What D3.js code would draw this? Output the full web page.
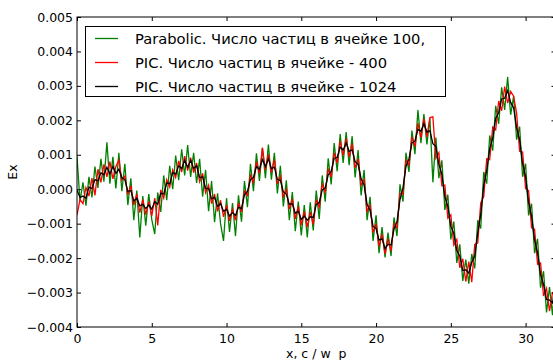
<!DOCTYPE html>
<html><head><meta charset="utf-8">
<script src="https://cdn.jsdelivr.net/npm/d3@7"></script>
<style>
html,body{margin:0;padding:0;background:#fff;overflow:hidden;}
svg{display:block;font-family:"DejaVu Sans",sans-serif;}
</style></head>
<body><svg id="c" width="553" height="360"></svg>
<script>
// Ex values in units of 1e-4, sampled every X_STEP along x (c / w_p)
const X_STEP = 0.2;
const UNIT = 1e-4;
const seriesNames = [
  "Parabolic. Число частиц в ячейке 100,",
  "PIC. Число частиц в ячейке - 400",
  "PIC. Число частиц в ячейке - 1024"
];
const seriesColors = ["#008000", "#ff0000", "#000000"];
const xTicks = [0, 5, 10, 15, 20, 25, 30];
const yTicks = [-0.004, -0.003, -0.002, -0.001, 0, 0.001, 0.002, 0.003, 0.004, 0.005];

const parabolic100 = [
 9.5,-3.5,2.0,-4.8,3.6,-2.4,6.6,0.4,8.8,2.2,
 13.6,1.6,9.4,0.2,10.6,-0.6,7.4,-4.6,3.2,-9.0,
 -0.4,-14.0,-2.0,-10.6,-1.4,-8.8,-13.0,-1.0,-6.6,4.0,
 -3.2,6.8,0.0,9.8,2.6,11.6,4.0,12.8,3.6,10.6,
 1.8,8.8,-2.2,5.6,-6.4,2.4,-9.6,-1.2,-10.0,-15.0,
 -2.6,-12.4,-4.0,-13.6,-1.8,-9.4,2.4,-5.2,7.4,-0.6,
 10.4,2.4,12.0,3.2,13.0,2.8,10.6,-1.2,6.8,-5.0,
 2.6,-9.0,-0.8,-12.2,-3.6,-13.4,-4.6,-14.0,-3.8,-12.0,
 -0.4,-8.6,4.0,-3.6,9.0,1.4,13.4,5.2,16.0,7.6,
 16.6,7.0,15.4,3.4,11.4,-1.8,5.6,-9.0,-2.2,-15.0,
 -7.6,-18.6,-11.0,-19.8,-12.6,-19.4,-8.2,-13.6,1.4,-3.6,
 10.6,5.0,17.0,10.2,23.0,13.4,21.8,13.0,20.6,2.0,
 15.0,3.2,8.4,-6.0,-1.6,-14.6,-9.4,-21.4,-16.0,-26.6,
 -20.4,-27.4,-18.8,-23.0,-9.0,-11.4,5.0,1.6,15.6,11.2,
 24.2,19.0,29.6,23.0,32.6,21.6,27.0,14.4,18.2,3.6,
 7.4,-7.6,-4.2,-18.6,-14.4,-28.6,-23.8,-35.8,-28.4,-36.6,
 -24.6
];
const pic400 = [
 -7.5,-3.0,-4.2,0.5,-2.0,3.2,-1.8,5.8,2.0,7.2,
 3.6,8.0,3.0,6.6,8.4,2.6,3.8,-1.6,1.0,-4.6,
 -1.4,-6.8,-3.0,-7.4,-3.6,-7.8,-2.6,-10.5,-0.2,-2.6,
 2.8,0.6,5.6,3.4,8.2,5.0,9.6,5.4,9.2,4.8,
 7.6,2.2,4.6,-1.0,1.2,-4.2,-1.4,-6.4,-3.2,-8.0,
 -4.6,-9.2,-5.8,-9.0,-4.0,-6.6,-0.6,-1.8,4.0,2.0,
 8.0,4.6,12.0,5.6,10.2,4.8,8.6,1.6,3.8,-2.2,
 0.0,-5.8,-2.8,-8.6,-5.0,-10.4,-6.4,-11.0,-6.6,-10.2,
 -3.0,-5.2,1.4,-0.8,5.8,3.6,10.6,7.6,14.0,9.8,
 14.8,9.4,13.2,6.2,8.8,1.2,2.8,-6.4,-4.6,-12.6,
 -10.0,-16.6,-13.0,-18.8,-14.4,-18.0,-10.0,-11.2,-1.2,-1.4,
 8.4,7.0,15.2,12.4,19.2,15.0,20.4,15.2,20.8,21.0,
 9.0,10.6,1.0,1.2,-8.4,-7.4,-16.2,-14.6,-22.8,-20.2,
 -26.8,-21.0,-27.0,-16.0,-15.6,-4.0,-2.2,8.8,8.6,18.0,
 17.2,25.6,22.8,29.8,25.0,28.4,27.0,22.0,11.0,10.8,
 0.2,-0.4,-11.2,-11.6,-21.8,-21.4,-31.0,-28.8,-35.4,-30.0,
 -29.8
];
const pic1024 = [
 -0.2,-2.4,-2.0,-2.6,0.6,0.2,2.8,2.4,4.8,4.2,
 6.4,4.4,6.6,4.6,5.8,3.4,2.8,-0.6,-0.4,-3.4,
 -2.6,-4.8,-4.4,-5.6,-4.6,-5.8,-3.6,-4.4,-1.2,-1.4,
 1.8,1.6,4.8,4.4,6.8,6.0,8.4,6.4,8.4,6.0,
 6.8,3.4,3.6,0.2,0.2,-2.8,-2.4,-5.0,-4.2,-6.4,
 -5.8,-7.8,-6.8,-7.6,-5.2,-5.6,-1.6,-0.6,2.8,3.4,
 6.6,5.8,8.6,6.6,8.8,6.0,6.4,2.8,2.6,-0.8,
 -1.4,-4.4,-4.2,-7.0,-6.4,-8.8,-7.8,-9.0,-8.0,-8.2,
 -4.4,-3.8,-0.2,0.4,4.2,5.2,9.0,9.2,12.2,11.4,
 13.4,11.0,11.4,8.0,7.2,3.0,1.2,-4.4,-6.2,-10.8,
 -11.4,-14.8,-14.4,-17.2,-16.0,-16.2,-11.6,-9.4,-3.0,0.4,
 6.6,8.8,13.4,14.0,17.4,16.8,19.0,16.6,17.0,13.2,
 12.4,7.2,4.4,-2.2,-5.0,-10.8,-12.8,-17.8,-19.4,-23.6,
 -23.4,-24.4,-21.2,-19.4,-12.6,-7.4,1.2,5.4,11.8,14.8,
 20.6,22.2,26.2,26.4,28.6,25.2,23.6,17.8,14.4,7.4,
 3.6,-3.8,-7.8,-14.8,-18.4,-24.8,-27.6,-32.0,-32.2,-33.0,
 -27.6
];
const allSeries = [parabolic100, pic400, pic1024];

const svg = d3.select("#c");
const M = {left: 77, right: 555.5, top: 17, bottom: 327};
const x = d3.scaleLinear().domain([0, 32]).range([M.left, M.right]);
const y = d3.scaleLinear().domain([-0.004, 0.005]).range([M.bottom, M.top]);

svg.append("rect").attr("width", 553).attr("height", 360).attr("fill", "#fff");

svg.append("defs").append("clipPath").attr("id", "clip")
  .append("rect").attr("x", M.left).attr("y", M.top)
  .attr("width", M.right - M.left).attr("height", M.bottom - M.top);

const line = d3.line()
  .x((d, i) => x(i * X_STEP))
  .y(d => y(d * UNIT));

const g = svg.append("g").attr("clip-path", "url(#clip)");
allSeries.forEach((s, k) => {
  g.append("path").datum(s)
    .attr("d", line)
    .attr("fill", "none")
    .attr("stroke", seriesColors[k])
    .attr("stroke-width", 1.3)
    .attr("stroke-linejoin", "miter");
});

const fmtY = v => d3.format(".3f")(v).replace("-", "\u2212");
const fs = 12.5;

// axes with inward ticks
const axB = svg.append("g").attr("transform", `translate(0,${M.bottom})`)
  .call(d3.axisBottom(x).tickValues(xTicks).tickSize(-4).tickPadding(6).tickFormat(d3.format("d")));
const axT = svg.append("g").attr("transform", `translate(0,${M.top})`)
  .call(d3.axisTop(x).tickValues(xTicks).tickSize(-4).tickFormat(""));
const axL = svg.append("g").attr("transform", `translate(${M.left},0)`)
  .call(d3.axisLeft(y).tickValues(yTicks).tickSize(-4).tickPadding(4).tickFormat(fmtY));
const axR = svg.append("g").attr("transform", `translate(${M.right},0)`)
  .call(d3.axisRight(y).tickValues(yTicks).tickSize(-4).tickFormat(""));

[axB, axT, axL, axR].forEach(a => {
  a.select(".domain").remove();
  a.selectAll(".tick line").attr("stroke", "#000").attr("stroke-width", 1);
  a.selectAll("text").attr("font-family", "DejaVu Sans").attr("font-size", fs).attr("fill", "#000");
});
axB.selectAll(".tick text").attr("dy", "0.78em");

// frame
svg.append("rect").attr("x", M.left).attr("y", M.top)
  .attr("width", M.right - M.left).attr("height", M.bottom - M.top)
  .attr("fill", "none").attr("stroke", "#000").attr("stroke-width", 1);

// axis labels
svg.append("text").attr("x", (M.left + M.right) / 2).attr("y", 358)
  .attr("text-anchor", "middle").attr("font-size", fs).attr("fill", "#000")
  .attr("xml:space", "preserve").style("white-space", "pre")
  .text("x, c / w  p");
svg.append("text").attr("transform", `translate(17,${(M.top + M.bottom) / 2}) rotate(-90)`)
  .attr("text-anchor", "middle").attr("font-size", fs).attr("fill", "#000")
  .text("Ex");

// legend
const lg = svg.append("g");
lg.append("rect").attr("x", 85.5).attr("y", 26.5).attr("width", 360).attr("height", 70)
  .attr("fill", "#fff").attr("stroke", "#000").attr("stroke-width", 1);
seriesNames.forEach((name, k) => {
  const yy = 38.5 + k * 24;
  lg.append("line").attr("x1", 95).attr("x2", 118).attr("y1", yy).attr("y2", yy)
    .attr("stroke", seriesColors[k]).attr("stroke-width", 1.3);
  lg.append("text").attr("x", 135).attr("y", yy).attr("dy", "0.35em")
    .attr("font-size", 14.7).attr("fill", "#000").text(name);
});
</script></body></html>
